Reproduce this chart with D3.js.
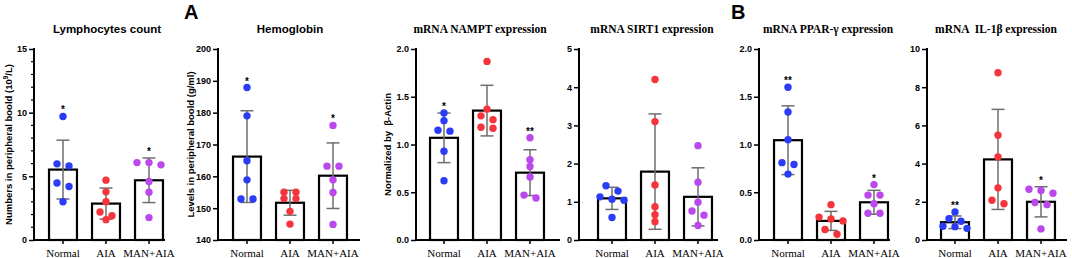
<!DOCTYPE html>
<html>
<head>
<meta charset="utf-8">
<script src="https://cdn.jsdelivr.net/npm/d3@7"></script>
<style>
body{margin:0;background:#ffffff;}
svg{display:block;}
</style>
</head>
<body>
<div id="figwrap"></div>
<script>
var groups = ["Normal","AIA","MAN+AIA"];

//lymphocytes count, 10^9/L
var lymphoPoints = [[9.7,5.98,5.82,4.48,4.2,3.0],[4.7,3.78,3.0,2.2,1.9,1.6],[6.08,6.08,5.9,4.59,3.75,1.76]];
var lymphoMean = [5.53,2.86,4.69];
var lymphoSd = [2.31,1.22,1.75];
var lymphoStars = ["*","","*"];
var lymphoTicks = [0,5,10,15];

//hemoglobin, g/ml
var hbPoints = [[187.9,179.0,164.9,158.9,152.9,152.9],[155,155,153,153,149,145],[176,163.2,163.2,158.9,154.9,144.9]];
var hbMean = [166.2,151.7,160.2];
var hbSd = [14.4,3.9,10.3];
var hbStars = ["*","","*"];
var hbTicks = [140,150,160,170,180,190,200];

//mRNA NAMPT
var namptPoints = [[1.33,1.25,1.15,1.14,0.93,0.62],[1.87,1.37,1.30,1.26,1.18,1.17],[1.07,0.84,0.77,0.66,0.47,0.44]];
var namptMean = [1.07,1.355,0.705];
var namptSd = [0.26,0.265,0.24];
var namptStars = ["*","","**"];
var namptTicks = [0,0.5,1.0,1.5,2.0];

//mRNA SIRT1
var sirtPoints = [[1.42,1.28,1.13,1.07,1.04,0.59],[4.2,3.1,1.44,0.87,0.66,0.48],[2.47,1.51,0.99,0.76,0.65,0.38]];
var sirtMean = [1.09,1.79,1.13];
var sirtSd = [0.29,1.51,0.76];
var sirtStars = ["","",""];
var sirtTicks = [0,1,2,3,4,5];

//mRNA PPAR-gamma
var pparPoints = [[1.60,1.34,1.05,0.81,0.79,0.69],[0.37,0.24,0.22,0.20,0.11,0.06],[0.58,0.47,0.47,0.38,0.28,0.28]];
var pparMean = [1.045,0.2,0.395];
var pparSd = [0.36,0.1,0.125];
var pparStars = ["**","","*"];
var pparTicks = [0,0.5,1.0,1.5,2.0];

//mRNA IL-1beta
var il1Points = [[1.47,1.12,0.98,0.72,0.70,0.61],[8.76,5.49,4.35,2.73,2.08,1.90],[2.66,2.59,2.45,1.96,1.85,0.58]];
var il1Mean = [0.93,4.22,2.0];
var il1Sd = [0.33,2.62,0.79];
var il1Stars = ["**","","*"];
var il1Ticks = [0,2,4,6,8,10];

var fig = {};
fig.width = 1072;
fig.height = 258;
fig.top = 49; //pixel row of the highest tick
fig.bottom = 240; //pixel row of the x axis
fig.sans = "'Liberation Sans', Arial, sans-serif";
fig.serif = "'Liberation Serif', 'Times New Roman', serif";
fig.cols = ["#2b3cf6","#f5343b","#bb48ec"];
fig.errcol = "#6e6e6e";

fig.svg = d3.select("#figwrap").append("svg")
	.attr("width",fig.width).attr("height",fig.height)
	.attr("viewBox","0 0 "+fig.width+" "+fig.height);

fig.panels = [
	{title:"Lymphocytes count", serif:false, titlex:107, axisx:34, first:63, end:165,
	 ylabel:"lympho", ylabelx:12, domain:[0,15], ticks:lymphoTicks, minor:1, fmt:d3.format("d"),
	 points:lymphoPoints, mean:lymphoMean, sd:lymphoSd, stars:lymphoStars},
	{title:"Hemoglobin", serif:false, titlex:290, axisx:218, first:247, end:360,
	 ylabel:"Levels in peripheral boold (g/ml)", ylabelx:194, domain:[140,200], ticks:hbTicks, minor:null, fmt:d3.format("d"),
	 points:hbPoints, mean:hbMean, sd:hbSd, stars:hbStars},
	{title:"mRNA NAMPT expression", serif:true, titlex:480, axisx:416, first:444, end:560,
	 ylabel:"Normalized by  \u03b2-Actin", ylabelx:391, domain:[0,2], ticks:namptTicks, minor:null, fmt:d3.format(".1f"),
	 points:namptPoints, mean:namptMean, sd:namptSd, stars:namptStars},
	{title:"mRNA SIRT1 expression", serif:true, titlex:652, axisx:579, first:612, end:718,
	 ylabel:null, domain:[0,5], ticks:sirtTicks, minor:null, fmt:d3.format("d"),
	 points:sirtPoints, mean:sirtMean, sd:sirtSd, stars:sirtStars},
	{title:"mRNA PPAR-\u03b3 expression", serif:true, titlex:828, axisx:759, first:788, end:890,
	 ylabel:null, domain:[0,2], ticks:pparTicks, minor:null, fmt:d3.format(".1f"),
	 points:pparPoints, mean:pparMean, sd:pparSd, stars:pparStars},
	{title:"mRNA  IL-1\u03b2 expression", serif:true, titlex:996, axisx:927, first:955, end:1067,
	 ylabel:null, domain:[0,10], ticks:il1Ticks, minor:null, fmt:d3.format("d"),
	 points:il1Points, mean:il1Mean, sd:il1Sd, stars:il1Stars}
];

//prism style scatter: values close in pixels share a row and spread sideways
fig.swarm = function(vals, y, cx){
	var sorted = vals.slice(0).sort(function(a,b){return b-a});
	var rows = [];
	var row = null;
	for(var i=0; i<sorted.length; i++){
		if(row && y(sorted[i]) - y(row[0]) < 6){ row.push(sorted[i]); }
		else{ row = [sorted[i]]; rows.push(row); }
	}
	var out = [];
	rows.forEach(function(r){
		r.forEach(function(v,j){ out.push({v:v, x:cx + (j-(r.length-1)/2)*12, y:y(v)}); });
	});
	return out;
}

fig.drawpanel = function(p){
	var g = fig.svg.append("g");
	var x = d3.scaleBand().domain(groups)
		.range([p.first-21.5, p.first+107.5]).paddingInner(0.35).paddingOuter(0.175);
	var y = d3.scaleLinear().domain(p.domain).range([fig.bottom, fig.top]);

	//title
	g.append("text").attr("x",p.titlex).attr("y",33).attr("text-anchor","middle")
		.attr("font-family", p.serif ? fig.serif : fig.sans).attr("font-weight","bold")
		.attr("font-size","11.5px").style("white-space","pre")
		.text(p.title);

	//y axis label
	if(p.ylabel){
		var yl = g.append("text").attr("transform","translate("+p.ylabelx+","+((fig.top+fig.bottom)/2)+") rotate(-90)")
			.attr("text-anchor","middle").attr("font-family",fig.sans).attr("font-weight","bold")
			.attr("font-size","9.5px").style("white-space","pre");
		if(p.ylabel=="lympho"){
			yl.append("tspan").text("Numbers in peripheral boold (10");
			yl.append("tspan").attr("dy",-4).attr("font-size","6.5px").text("9");
			yl.append("tspan").attr("dy",4).text("/L)");
		}
		else{
			yl.text(p.ylabel);
		}
	}

	//bars
	var bars = g.selectAll("rect.bar").data(groups);
	bars.enter().append("rect").classed("bar",true)
		.attr("x",function(d){return x(d)})
		.attr("width",x.bandwidth())
		.attr("y",function(d,i){return y(p.mean[i])})
		.attr("height",function(d,i){return fig.bottom - y(p.mean[i])})
		.attr("fill","#ffffff").attr("stroke","#000000").attr("stroke-width",2.2);

	//error bars, mean +/- sd
	groups.forEach(function(d,i){
		var cx = x(d) + x.bandwidth()/2;
		var hi = y(p.mean[i]+p.sd[i]), lo = y(Math.max(p.domain[0], p.mean[i]-p.sd[i]));
		g.append("line").attr("x1",cx).attr("x2",cx).attr("y1",hi).attr("y2",lo)
			.attr("stroke",fig.errcol).attr("stroke-width",1.5);
		g.append("line").attr("x1",cx-6.5).attr("x2",cx+6.5).attr("y1",hi).attr("y2",hi)
			.attr("stroke",fig.errcol).attr("stroke-width",1.5);
		g.append("line").attr("x1",cx-6.5).attr("x2",cx+6.5).attr("y1",lo).attr("y2",lo)
			.attr("stroke",fig.errcol).attr("stroke-width",1.5);
	});

	//individual animals
	groups.forEach(function(d,i){
		var cx = x(d) + x.bandwidth()/2;
		var pts = fig.swarm(p.points[i], y, cx);
		g.selectAll("circle.g"+i).data(pts).enter().append("circle").classed("g"+i,true)
			.attr("cx",function(e){return e.x}).attr("cy",function(e){return e.y})
			.attr("r",3.7).attr("fill",fig.cols[i]);

		if(p.stars[i]){
			var topy = Math.min(d3.min(pts,function(e){return e.y}), y(p.mean[i]+p.sd[i]));
			g.append("text").attr("x",cx).attr("y",topy-3).attr("text-anchor","middle")
				.attr("font-family",fig.sans).attr("font-weight","bold").attr("font-size","10px")
				.text(p.stars[i]);
		}
	});

	//y axis
	var yaxis = d3.axisLeft(y).tickValues(p.ticks).tickFormat(p.fmt).tickSize(5).tickPadding(2).tickSizeOuter(0);
	var ya = g.append("g").attr("transform","translate("+p.axisx+",0)").call(yaxis);
	if(p.minor){
		var mt = d3.range(p.domain[0], p.domain[1]+1e-9, p.minor).filter(function(v){return p.ticks.indexOf(v)<0});
		ya.selectAll("line.minor").data(mt).enter().append("line").classed("minor",true)
			.attr("x1",-3).attr("x2",0).attr("y1",function(v){return y(v)}).attr("y2",function(v){return y(v)})
			.attr("stroke","#000").attr("stroke-width",1.2);
	}
	ya.select(".domain").attr("stroke-width",2).attr("d","M0,"+(fig.bottom+1)+"V"+(fig.top-1));
	ya.selectAll(".tick line").attr("stroke-width",1.5);
	ya.selectAll(".tick text").attr("font-family",fig.sans).attr("font-weight","bold").attr("font-size","9px").attr("fill","#000");

	//x axis
	var xaxis = d3.axisBottom(x).tickSize(4).tickPadding(5).tickSizeOuter(0);
	var xa = g.append("g").attr("transform","translate(0,"+fig.bottom+")").call(xaxis);
	xa.select(".domain").attr("stroke-width",2).attr("d","M"+(p.axisx-1)+",0H"+p.end);
	xa.selectAll(".tick line").attr("stroke-width",1.5);
	xa.selectAll(".tick text").attr("font-family",fig.serif).attr("font-size","11px").attr("fill","#000");
}

fig.draw = function(){
	for(var i=0; i<fig.panels.length; i++){
		fig.drawpanel(fig.panels[i]);
	}
	//panel letters
	fig.svg.append("text").attr("x",184).attr("y",19).attr("font-family",fig.sans)
		.attr("font-weight","bold").attr("font-size","20px").text("A");
	fig.svg.append("text").attr("x",731).attr("y",19).attr("font-family",fig.sans)
		.attr("font-weight","bold").attr("font-size","20px").text("B");
}

fig.draw();
</script>
</body>
</html>
